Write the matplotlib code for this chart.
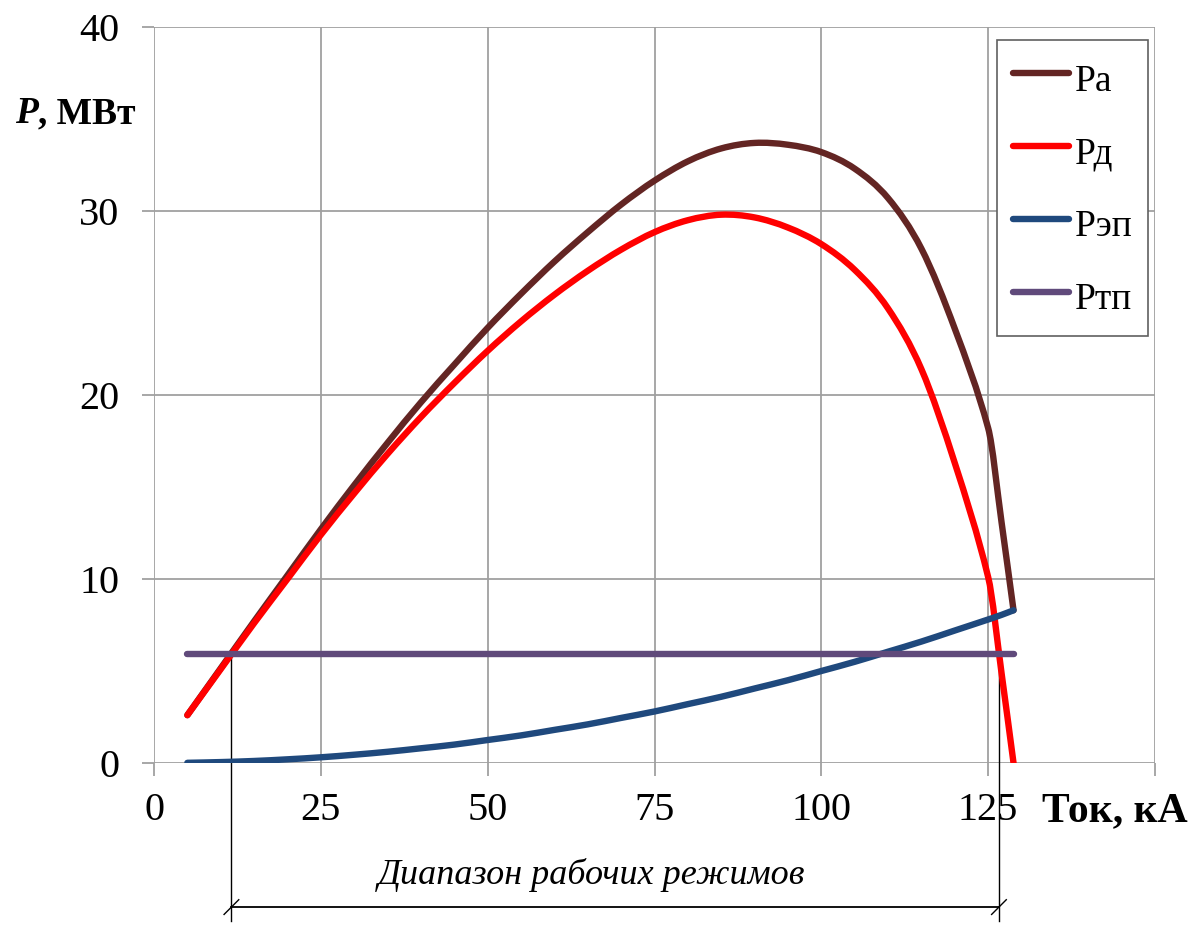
# libraries
import numpy as np
import matplotlib
matplotlib.use("Agg")
import matplotlib.pyplot as plt
from matplotlib.path import Path
from matplotlib.patches import PathPatch
from matplotlib.lines import Line2D

plt.rcParams['font.family'] = ['Liberation Serif', 'DejaVu Serif']

# data (current, kA -> power, MW)
tok = [5, 10, 15, 20, 25, 30, 35, 40, 45, 50, 55, 60, 65, 70, 75, 80, 85, 90,
       95, 100, 105, 110, 115, 120, 125, 127, 128.8]
p_a = [2.6, 5.15, 7.7, 10.2, 12.7, 15.1, 17.4, 19.6, 21.65, 23.65, 25.5,
       27.25, 28.85, 30.35, 31.65, 32.7, 33.4, 33.7, 33.6, 33.2, 32.3, 30.7,
       27.95, 23.6, 18.2, 13.1, 8.3]
p_d = [2.6, 5.1, 7.6, 10.0, 12.4, 14.65, 16.8, 18.8, 20.65, 22.4, 24.0,
       25.45, 26.75, 27.9, 28.85, 29.5, 29.8, 29.65, 29.1, 28.2, 26.8, 24.7,
       21.4, 16.3, 10.1, 4.9, 0.0]
p_ep = [0.01, 0.05, 0.11, 0.2, 0.31, 0.45, 0.61, 0.8, 1.0, 1.25, 1.5, 1.8,
        2.1, 2.45, 2.8, 3.2, 3.6, 4.05, 4.5, 5.0, 5.5, 6.05, 6.6, 7.2, 7.8,
        8.05, 8.3]
tok_tp = [5, 128.8]
p_tp = [5.9, 5.9]

labels = ['Ра', 'Рд', 'Рэп', 'Ртп']
colors = ['#632523', '#ff0000', '#1f497d', '#604a7b']

x_ticks = [0, 25, 50, 75, 100, 125, 150]
x_ticklabels = ['0', '25', '50', '75', '100', '125', '']
y_ticks = [0, 10, 20, 30, 40]


def smooth_path(xs, ys):
    # smoothed line: cubic bezier segments through the data points
    x = np.asarray(xs, float)
    y = np.asarray(ys, float)
    n = len(x)
    if n < 3:
        return Path(np.column_stack([x, y]))
    d = np.diff(y) / np.diff(x)
    m = np.empty(n)
    m[1:-1] = (y[2:] - y[:-2]) / (x[2:] - x[:-2])
    # at sharp bends keep the tangent near the flatter chord (no wiggles)
    lim = np.minimum(np.abs(d[:-1]), np.abs(d[1:])) + 0.25
    m[1:-1] = np.clip(m[1:-1], -lim, lim)
    m[0] = d[0]
    m[-1] = d[-1]
    verts = [(x[0], y[0])]
    codes = [Path.MOVETO]
    for i in range(n - 1):
        h = (x[i + 1] - x[i]) / 3
        verts += [(x[i] + h, y[i] + m[i] * h),
                  (x[i + 1] - h, y[i + 1] - m[i + 1] * h),
                  (x[i + 1], y[i + 1])]
        codes += [Path.CURVE4] * 3
    return Path(verts, codes)


fig = plt.figure(figsize=(11.94, 9.25), dpi=100)
ax = fig.add_axes([154/1194, 1 - 763/925, (1155-154)/1194, (763-27)/925])

series = [(tok, p_a), (tok, p_d), (tok, p_ep), (tok_tp, p_tp)]
handles = []
for (xs, ys), lab, c in zip(series, labels, colors):
    patch = PathPatch(smooth_path(xs, ys), facecolor='none', edgecolor=c,
                      lw=4.6, capstyle='round', joinstyle='round', zorder=3)
    ax.add_patch(patch)
    handles.append(Line2D([], [], color=c, lw=4.6, solid_capstyle='round',
                          label=lab))

ax.set_xlim(0, 150)
ax.set_ylim(0, 40)
ax.set_xticks(x_ticks)
ax.set_xticklabels(x_ticklabels)
ax.set_yticks(y_ticks)
ax.grid(True, color='#a0a0a0', lw=1.3)
ax.set_axisbelow(True)
for s in ax.spines.values():
    s.set_visible(False)
ax.tick_params(axis='both', direction='out', length=9, width=1.3,
               color='#a0a0a0', labelsize=29)
ax.tick_params(axis='x', pad=12)
ax.tick_params(axis='y', pad=16)

# axis titles
t1 = fig.text(15/1194, 1 - 123/925, 'P', fontsize=27, fontweight='bold',
              fontstyle='italic', va='baseline')
ax.annotate(', МВт', xy=(1, 0), xycoords=t1, va='bottom', fontsize=27,
            fontweight='bold')
fig.text(1042/1194, 1 - 821/925, 'Ток, кА', fontsize=30, fontweight='bold',
         va='baseline')

# working range: where Pд crosses Ртп
pd_arr = np.array(p_d)
x_arr = np.array(tok)
k = int(np.argmax(pd_arr))
x_left = np.interp(p_tp[0], pd_arr[:k+1], x_arr[:k+1])
x_right = np.interp(p_tp[0], pd_arr[k:][::-1], x_arr[k:][::-1])

y_bar = -7.83
for xv in (x_left, x_right):
    ax.plot([xv, xv], [p_tp[0], -8.6], color='black', lw=1.0,
            clip_on=False, zorder=2)
    ax.plot([xv - 1.1, xv + 1.1], [y_bar - 0.4, y_bar + 0.4], color='black',
            lw=1.0, clip_on=False)
ax.plot([x_left, x_right], [y_bar, y_bar], color='black', lw=1.3,
        clip_on=False)
ax.text(65.5, -6.1, 'Диапазон рабочих режимов', fontsize=26,
        fontstyle='italic', ha='center', va='center')

leg = ax.legend(handles=handles, loc='upper left',
                bbox_to_anchor=(997/1194, 1 - 40/925),
                bbox_transform=fig.transFigure, borderaxespad=0,
                fontsize=27, handlelength=1.5, handleheight=1.5,
                handletextpad=0.15, labelspacing=0.72, borderpad=0.42,
                fancybox=False, framealpha=1, edgecolor='#606060')
leg.get_frame().set_linewidth(1.2)

plt.savefig('out.png', dpi=100)
